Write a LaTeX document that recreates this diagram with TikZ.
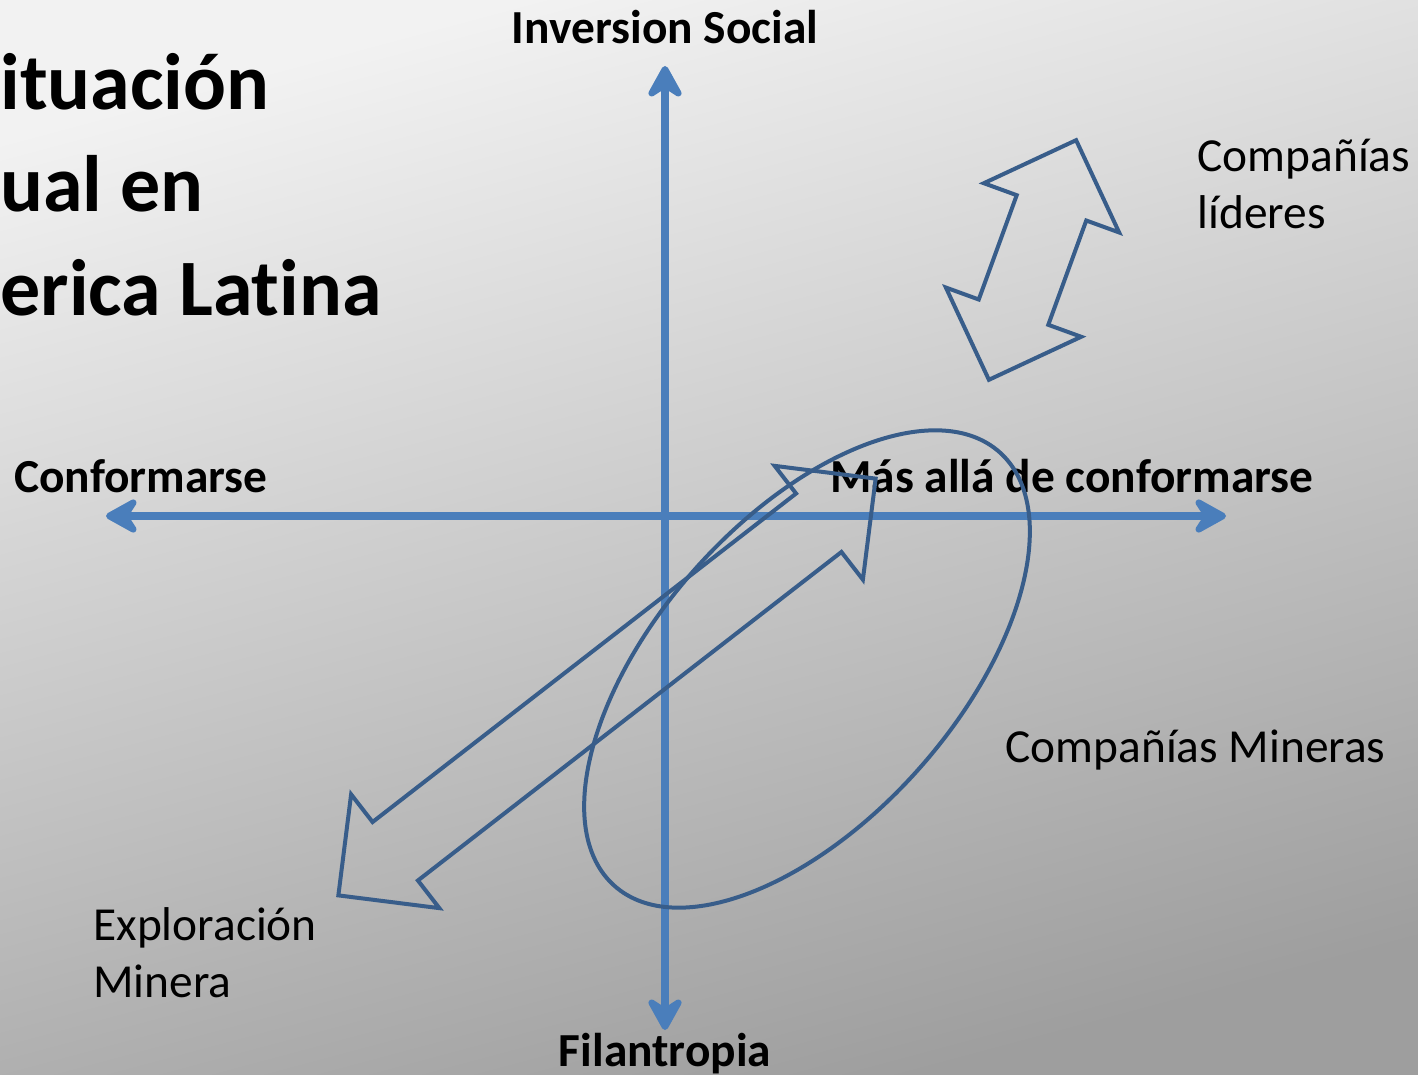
\documentclass[tikz,border=0pt]{standalone}
\usepackage{fontspec}
\setmainfont{Carlito}[Ligatures=NoCommon]
\usetikzlibrary{arrows.meta,positioning}
\definecolor{axisBlue}{RGB}{74,126,187}
\definecolor{shapeBlue}{RGB}{56,93,138}

\begin{document}
\begin{tikzpicture}[
    x=0.5pt, y=-0.5pt,
    >={Stealth[length=20pt, width=22pt, inset=7pt, round]},
    axis/.style={axisBlue, line width=3.8pt, <->},
    outline/.style={shapeBlue, line width=2pt, line join=miter},
    lbl/.style={font=\fontsize{23.7}{28.5}\selectfont, inner sep=0pt, align=left},
    bold/.style={lbl, font=\fontsize{23.7}{28.5}\selectfont\bfseries},
    title/.style={font=\fontsize{40}{51}\selectfont\bfseries, inner sep=0pt, anchor=base west}
  ]
  \useasboundingbox (0,0) rectangle (1418,1075);
  \shade[top color=black!5, bottom color=black!38, shading angle=15] (0,0) rectangle (1418,1075);

  % title, cut at the left edge
  \node[title] (title1) at (0,110) {ituación};
  \node[title] (title2) at (0,212) {ual en};
  \node[title] (title3) at (0,315) {erica Latina};

  % axis labels
  \node[bold, anchor=base]      (invers)  at (665,44)   {Inversion Social};
  \node[bold, anchor=base]      (filan)   at (665,1066) {Filantropia};
  \node[bold, anchor=base west] (confor)  at (14,492)   {Conformarse};
  \node[bold, anchor=base west] (masalla) at (830,492)  {Más allá de conformarse};

  % group labels (base = last line)
  \node[lbl, anchor=base west] (lideres) at (1197,229) {Compañías\\líderes};
  \node[lbl, anchor=base west] (mineras) at (1005,762) {Compañías Mineras};
  \node[lbl, anchor=base west] (explor)  at (93,997)   {Exploración\\Minera};

  % axes
  \coordinate (xl) at (106,516);
  \coordinate (xr) at (1226,516);
  \coordinate (yt) at (665,66);
  \coordinate (yb) at (665,1030);
  \draw[axis] (xl) -- (xr);
  \draw[axis] (yt) -- (yb);

  % big double arrow
  \begin{scope}[shift={(607,687)}, rotate=37.8]
    \draw[outline] (-340,0) -- (-268,72) -- (-268,37) -- (268,37) -- (268,72) -- (340,0)
      -- (268,-72) -- (268,-37) -- (-268,-37) -- (-268,-72) -- cycle;
  \end{scope}

  % small double arrow
  \begin{scope}[shift={(1032.5,260)}, rotate=70]
    \draw[outline] (-127.5,0) -- (-55.5,72) -- (-55.5,37) -- (55.5,37) -- (55.5,72) -- (127.5,0)
      -- (55.5,-72) -- (55.5,-37) -- (-55.5,-37) -- (-55.5,-72) -- cycle;
  \end{scope}

  % mining companies
  \draw[outline, rotate around={48.4:(807,669)}] (807,669) ellipse [x radius=290, y radius=150];
\end{tikzpicture}
\end{document}
